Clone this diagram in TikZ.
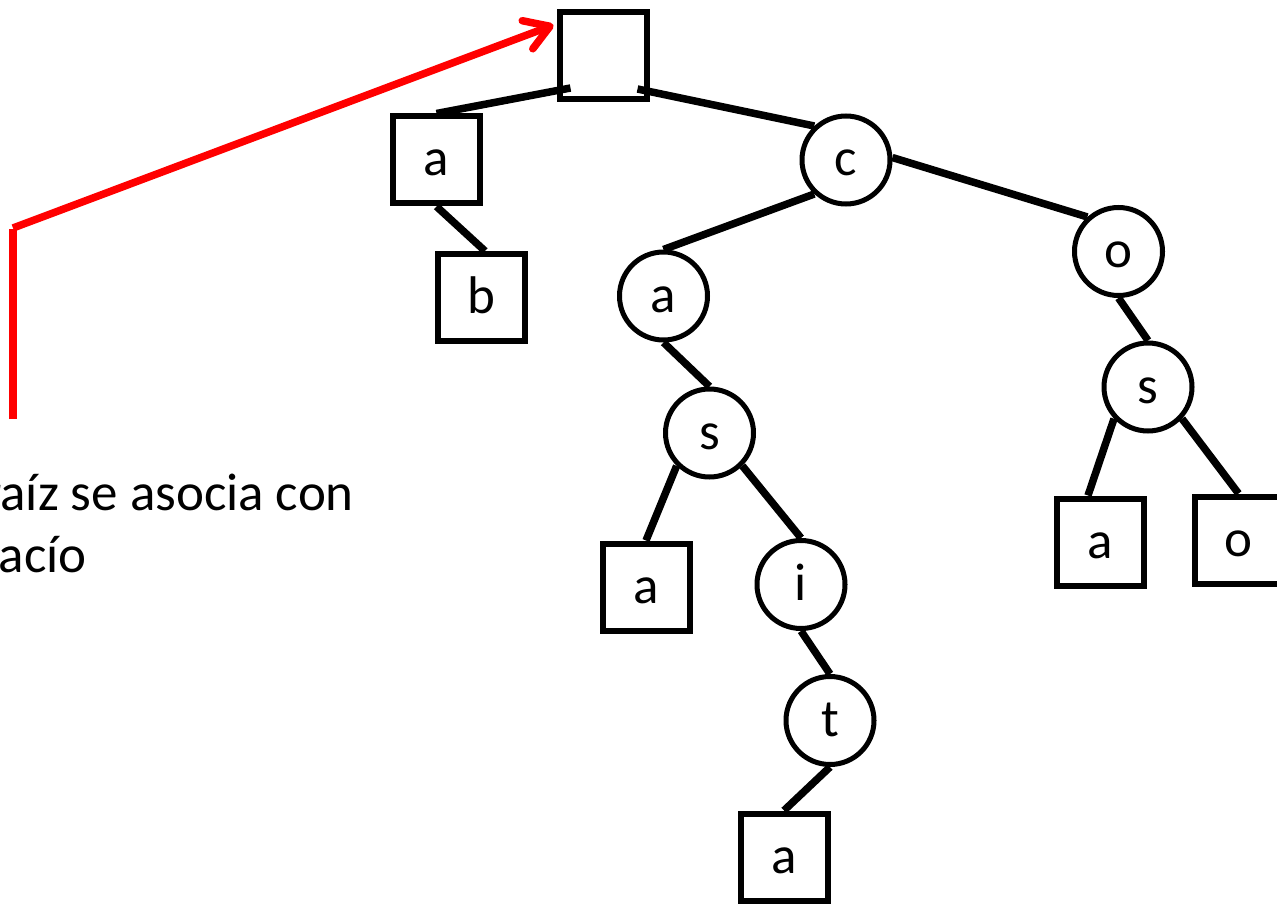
\documentclass[tikz,border=0pt]{standalone}
\usepackage{fontspec}
\setmainfont{Carlito}
\usetikzlibrary{arrows.meta}
\begin{document}
\begin{tikzpicture}[x=1pt,y=-1pt,
  lbl/.style={font=\fontsize{53}{64}\selectfont, text height=38pt, text depth=6pt, inner sep=0pt},
  sqnode/.style={lbl, draw, rectangle, line width=6pt, minimum size=87pt},
  cnode/.style={lbl, draw, circle, line width=5pt, minimum size=88pt},
  link/.style={line width=7.5pt},
  pointer/.style={red, line width=7.5pt},
  caption/.style={font=\fontsize{53}{64}\selectfont, inner sep=0pt, anchor=base east}]
\useasboundingbox (0,0) rectangle (1277,904);
\clip (0,0) rectangle (1277,904);

% trie nodes: squares end a word, circles are inner letters
\node[sqnode] (root) at (603,55.5) {};
\node[sqnode] (a1) at (436.5,160) {a};
\node[sqnode] (b) at (481,297.5) {b};
\node[cnode] (c) at (846,160) {c};
\node[cnode] (a2) at (663.5,296) {a};
\node[cnode] (o) at (1118.5,251.5) {o};
\node[cnode] (s) at (709.5,433) {s};
\node[sqnode] (a3) at (646,587) {a};
\node[cnode] (i) at (801,584.5) {i};
\node[cnode] (t) at (830,720.5) {t};
\node[sqnode] (a4) at (784,857) {a};
\node[cnode] (s2) at (1148,387) {s};
\node[sqnode] (a5) at (1100,542) {a};
\node[sqnode] (o2) at (1238.5,540) {o};

% edges
\draw[link] (a1.north) -- ([shift={(14,-14)}]root.south west);
\draw[link] ([shift={(-12,-13)}]root.south east) -- (c.133);
\draw[link] (a1.south) -- ([xshift=4pt]b.north);
\draw[link] (c.227) -- (a2.north);
\draw[link] (c.3) -- (o.132);
\draw[link] (a2.south) -- (s.north);
\draw[link] (s.225) -- (a3.north);
\draw[link] (s.-45) -- (i.north);
\draw[link] (i.south) -- (t.north);
\draw[link] (t.south) -- (a4.north);
\draw[link] (o.south) -- (s2.north);
\draw[link] (s2.223) -- ([xshift=-12pt]a5.north);
\draw[link] (s2.-43) -- (o2.north);

% caption and its pointer to the root
\node[caption] (cap1) at (354,510) {raíz se asocia con};
\node[caption] (cap2) at (87,572) {vacío};
\coordinate (p0) at (13,419);
\coordinate (p1) at (13,229);
\coordinate (p2) at (13,228);
\draw[pointer] (p0) -- (p1);
\draw[pointer, -{Straight Barb[length=24pt,width=30pt,round]}] (p2) -- ([shift={(-3,16)}]root.north west);
\end{tikzpicture}
\end{document}
